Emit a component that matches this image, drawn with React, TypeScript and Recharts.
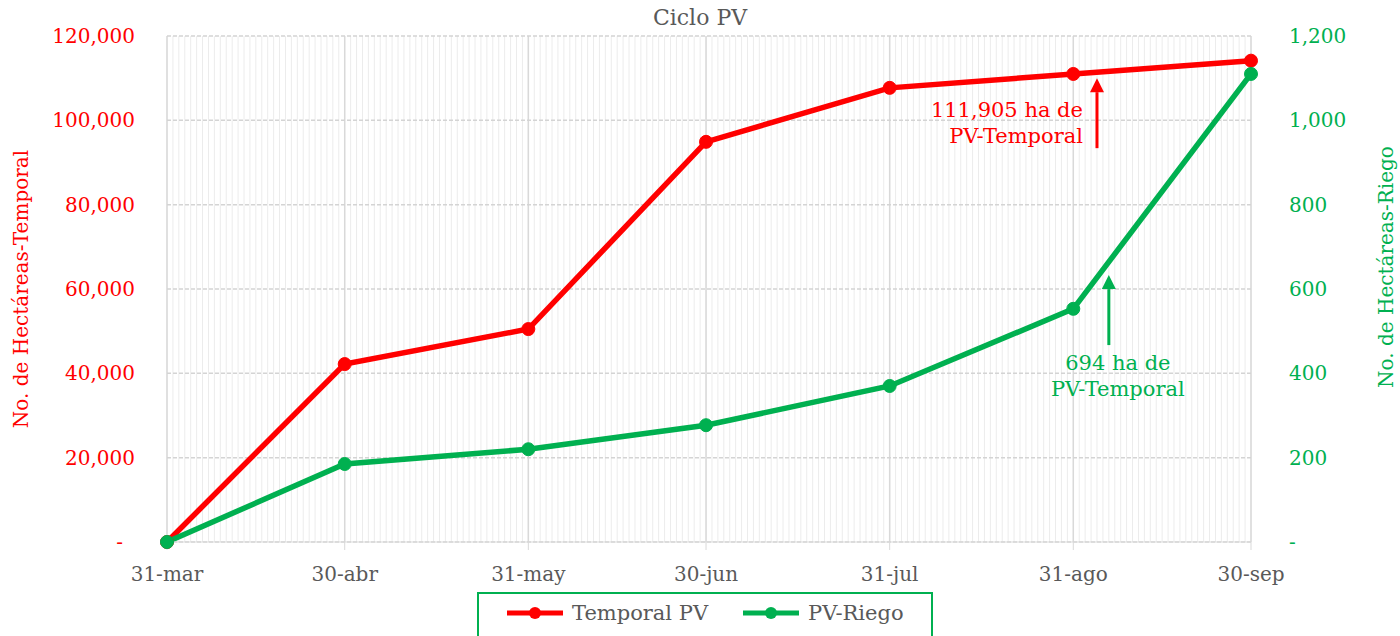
import React from "react";
import {
  ComposedChart,
  Line,
  XAxis,
  YAxis,
  CartesianGrid,
  ReferenceLine,
} from "recharts";

const dateLabels = ["31-mar", "30-abr", "31-may", "30-jun", "31-jul", "31-ago", "30-sep"];
const dayOffsets = [0, 30, 61, 91, 122, 153, 183];
const temporalPV = [0, 42200, 50500, 94900, 107700, 111000, 114150];
const riegoPV = [0, 185, 220, 277, 370, 553, 1110];
const leftTicks = [0, 20000, 40000, 60000, 80000, 100000, 120000];
const rightTicks = [0, 200, 400, 600, 800, 1000, 1200];

const RED = "#ff0000";
const GREEN = "#00b050";
const GRAY = "#595959";
const FONT = "DejaVu Serif";

const data = dayOffsets.map((d, i) => ({
  day: d,
  temporal: temporalPV[i],
  riego: riegoPV[i],
}));

const fmt = (v: number) => (v === 0 ? "-" : v.toLocaleString("en-US"));

function LeftTick(props: any) {
  const { x, y, payload } = props;
  const zero = payload.value === 0;
  return (
    <text x={zero ? x - 12 : x} y={y} dy="0.35em" textAnchor="end" fill={RED} fontSize={20} fontFamily={FONT}>
      {fmt(payload.value)}
    </text>
  );
}

function RightTick(props: any) {
  const { x, y, payload } = props;
  return (
    <text x={x} y={y} dy="0.35em" textAnchor="start" fill={GREEN} fontSize={20} fontFamily={FONT}>
      {fmt(payload.value)}
    </text>
  );
}

function arrowShape(color: string, lines: string[], align: "end" | "middle") {
  return (props: any) => {
    const { x1, y1, x2, y2 } = props;
    const head = 14;
    const tx = align === "end" ? x1 - 14 : x1 + 9;
    const ty = align === "end" ? y1 - 31 : y1 + 25;
    return (
      <g>
        <line x1={x1} y1={y1} x2={x2} y2={y2 + head} stroke={color} strokeWidth={3} />
        <polygon points={`${x2},${y2} ${x2 - 7},${y2 + head} ${x2 + 7},${y2 + head}`} fill={color} />
        {lines.map((t, i) => (
          <text key={i} x={tx} y={ty + i * 26} textAnchor={align} fill={color} fontSize={21} fontFamily={FONT}>
            {t}
          </text>
        ))}
      </g>
    );
  };
}

function LegendIcon({ color }: { color: string }) {
  return (
    <svg width={58} height={14} style={{ marginRight: 8 }}>
      <line x1={1} y1={7} x2={57} y2={7} stroke={color} strokeWidth={5} />
      <circle cx={29} cy={7} r={6} fill={color} />
    </svg>
  );
}

export default function App() {
  return (
    <div style={{ position: "fixed", left: 0, top: 0, width: 1400, height: 636, overflow: "hidden", background: "#fff", fontFamily: FONT }}>
      <div style={{ position: "absolute", left: 0, width: 1400, top: 5, textAlign: "center", color: GRAY, fontSize: 22 }}>
        Ciclo PV
      </div>
      <ComposedChart width={1400} height={636} data={data} margin={{ top: 36, right: 0, left: 0, bottom: 0 }}>
        <CartesianGrid
          horizontal={false}
          stroke="#ececec"
          verticalCoordinatesGenerator={({ offset }: any) => {
            const out: number[] = [];
            for (let d = 0; d <= 183; d++) out.push(offset.left + (d * offset.width) / 183);
            return out;
          }}
        />
        <CartesianGrid horizontal={false} stroke="#d9d9d9" strokeWidth={1.5} yAxisId="left" />
        <CartesianGrid vertical={false} stroke="#d4d4d4" strokeWidth={1.5} strokeDasharray="4 2" yAxisId="left" />
        <XAxis
          dataKey="day"
          type="number"
          domain={[0, 183]}
          ticks={dayOffsets}
          tickFormatter={(v: number) => dateLabels[dayOffsets.indexOf(v)]}
          height={94}
          stroke="#d9d9d9"
          tickSize={8}
          tickMargin={17}
          tick={{ fill: GRAY, fontSize: 20, fontFamily: FONT }}
        />
        <YAxis
          yAxisId="left"
          width={167}
          domain={[0, 120000]}
          ticks={leftTicks}
          axisLine={false}
          tickLine={false}
          tickSize={0}
          tickMargin={32}
          tick={<LeftTick />}
          label={{ value: "No. de Hectáreas-Temporal", angle: -90, position: "center", dx: -63, fill: RED, fontSize: 20, fontFamily: FONT }}
        />
        <YAxis
          yAxisId="right"
          orientation="right"
          width={149}
          domain={[0, 1200]}
          ticks={rightTicks}
          axisLine={false}
          tickLine={false}
          tickSize={0}
          tickMargin={38}
          tick={<RightTick />}
          label={{ value: "No. de Hectáreas-Riego", angle: -90, position: "center", dx: 60, dy: -22, fill: GREEN, fontSize: 20, fontFamily: FONT }}
        />
        <Line
          yAxisId="left"
          dataKey="temporal"
          stroke={RED}
          strokeWidth={5.5}
          dot={{ r: 6.5, fill: RED, stroke: RED, strokeWidth: 1 }}
          isAnimationActive={false}
        />
        <Line
          yAxisId="right"
          dataKey="riego"
          stroke={GREEN}
          strokeWidth={5.5}
          dot={{ r: 6.5, fill: GREEN, stroke: GREEN, strokeWidth: 1 }}
          isAnimationActive={false}
        />
        <ReferenceLine
          yAxisId="left"
          segment={[{ x: 157, y: 93400 }, { x: 157, y: 110000 }]}
          shape={arrowShape(RED, ["111,905 ha de", "PV-Temporal"], "end")}
        />
        <ReferenceLine
          yAxisId="right"
          segment={[{ x: 159, y: 467 }, { x: 159, y: 633 }]}
          shape={arrowShape(GREEN, ["694 ha de", "PV-Temporal"], "middle")}
        />
      </ComposedChart>
      <div
        style={{
          position: "absolute",
          left: 477,
          top: 592,
          width: 456,
          height: 60,
          border: `2px solid ${GREEN}`,
          boxSizing: "border-box",
          display: "flex",
          alignItems: "flex-start",
          paddingTop: 7,
          paddingLeft: 27,
          color: GRAY,
          fontSize: 21,
        }}
      >
        <div style={{ display: "flex", alignItems: "center", marginRight: 34 }}>
          <LegendIcon color={RED} />
          <span>Temporal PV</span>
        </div>
        <div style={{ display: "flex", alignItems: "center" }}>
          <LegendIcon color={GREEN} />
          <span>PV-Riego</span>
        </div>
      </div>
    </div>
  );
}
